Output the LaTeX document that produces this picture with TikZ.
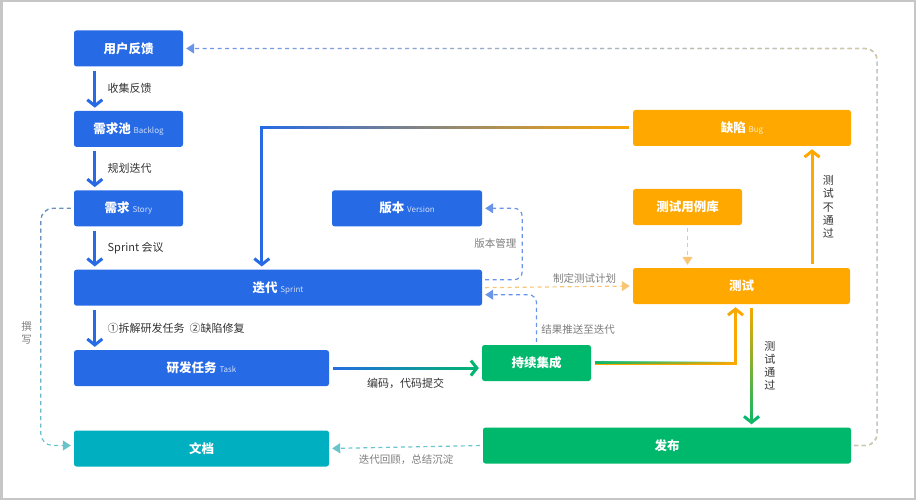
\documentclass[tikz,border=0pt]{standalone}
\usepackage{fontspec}
\setmainfont{Noto Sans CJK SC}
\usepackage{xcolor}
\usetikzlibrary{arrows.meta, positioning, fadings}
\definecolor{sblue}{RGB}{39,106,230}
\definecolor{sorange}{RGB}{255,168,0}
\definecolor{sgreen}{RGB}{0,184,108}
\definecolor{steal}{RGB}{0,175,192}
\definecolor{dblue}{RGB}{105,148,232}
\definecolor{dorange}{RGB}{248,198,118}
\definecolor{dteal}{RGB}{105,196,204}
\definecolor{dtan}{RGB}{218,204,150}
\definecolor{lgray}{RGB}{125,125,125}
\definecolor{tgray}{RGB}{50,50,50}
\newcommand{\sub}[2][sblue]{{\mdseries\fontsize{8}{10}\selectfont\color{white!78!#1}#2}}
\tikzfading[name=fromleft, left color=transparent!100, right color=transparent!0]
\tikzfading[name=toright, left color=transparent!0, right color=transparent!100]
\tikzfading[name=tobottom, top color=transparent!0, bottom color=transparent!100]
\tikzfading[name=tanfade, left color=transparent!100, middle color=transparent!25, right color=transparent!0]

\begin{document}
\begin{tikzpicture}[x=1pt, y=-1pt,
      box/.style={rounded corners=2.5pt, minimum height=36pt, inner sep=0pt, text=white,
                  font=\bfseries\fontsize{12.5}{15}\selectfont},
      bluebox/.style={box, fill=sblue},
      orangebox/.style={box, fill=sorange},
      greenbox/.style={box, fill=sgreen},
      tealbox/.style={box, fill=steal},
      flow/.style={line width=3pt, shorten <=4pt, shorten >=3pt,
                   -{Straight Barb[length=6pt, width=15pt]}},
      dline/.style={line width=1.2pt, dash pattern=on 4pt off 3.5pt, shorten <=3pt, shorten >=3pt,
                    -{Triangle[length=8pt, width=10pt]}},
      lbl/.style={font=\fontsize{11}{13}\selectfont, text=tgray},
      vlbl/.style={font=\fontsize{11}{13.3}\selectfont, text=tgray, align=center},
      note/.style={font=\fontsize{10.5}{13}\selectfont, text=lgray}]
    \useasboundingbox (0,0) rectangle (916,500);
    \draw[gray!45, line width=5pt] (0,0) rectangle (916,500);

    \node[bluebox, minimum width=109pt] (feedback) at (128.5,48.5) {用户反馈};
    \node[bluebox, minimum width=109pt, below=44pt of feedback] (backlog) {需求池 \sub{Backlog}};
    \node[bluebox, minimum width=109pt, below=43pt of backlog] (story) {需求 \sub{Story}};
    \node[bluebox, minimum width=408pt, below right=43pt and 0pt of story.south west] (sprint) {迭代 \sub{Sprint}};
    \node[bluebox, minimum width=255pt, below right=44pt and 0pt of sprint.south west] (task) {研发任务 \sub{Task}};
    \node[tealbox, minimum width=255pt, below right=44pt and 0pt of task.south west] (doc) {文档};
    \node[bluebox, minimum width=150pt, above left=43pt and 0pt of sprint.north east] (version) {版本 \sub{Version}};
    \node[greenbox, minimum width=109pt] (ci) at (536.5,363) {持续集成};
    \node[greenbox, minimum width=368pt] (release) at (667,445.5) {发布};
    \node[orangebox, minimum width=217pt] (test) at (741.5,286) {测试};
    \node[orangebox, minimum width=109pt] (case) at (687.5,207) {测试用例库};
    \node[orangebox, minimum width=218pt] (bug) at (742,128) {缺陷 \sub[sorange]{Bug}};

    \draw[flow, sblue] ([xshift=21pt]feedback.south west) -- ([xshift=21pt]backlog.north west)
      node[lbl, midway, right=8pt] {收集反馈};
    \draw[flow, sblue] ([xshift=21pt]backlog.south west) -- ([xshift=21pt]story.north west)
      node[lbl, midway, right=8pt] {规划迭代};
    \draw[flow, sblue] ([xshift=21pt]story.south west) -- ([xshift=21pt]sprint.north west)
      node[lbl, midway, right=8pt] {Sprint 会议};
    \draw[flow, sblue] ([xshift=21pt]sprint.south west) -- ([xshift=21pt]task.north west)
      node[lbl, midway, right=8pt] {①拆解研发任务 \ ②缺陷修复};

    \draw[flow, sblue] (bug.west) -| ([xshift=188pt]sprint.north west);
    \draw[flow, sorange, path fading=fromleft] (bug.west) -| ([xshift=188pt]sprint.north west);
    \draw[flow, sgreen] (task.east) -- (task.east -| ci.west)
      node[lbl, midway, below=5pt] {编码，代码提交};
    \draw[flow, sblue, path fading=toright] (task.east) -- (task.east -| ci.west);
    \draw[flow, sorange] (ci.east) -| ([xshift=-6pt]test.south);
    \draw[flow, sgreen, path fading=toright] (ci.east) -| ([xshift=-6pt]test.south);
    \draw[flow, sgreen] ([xshift=10pt]test.south) -- ([xshift=10pt]test.south |- release.north)
      node[vlbl, midway, right=8pt] {测\\试\\通\\过};
    \draw[flow, sorange, path fading=tobottom] ([xshift=10pt]test.south) -- ([xshift=10pt]test.south |- release.north);
    \draw[flow, sorange] ([xshift=70.5pt]test.north) -- ([xshift=70.5pt]test.north |- bug.south)
      node[vlbl, midway, right=6pt] {测\\试\\不\\通\\过};

    \draw[dline, dblue, rounded corners=8pt] ([yshift=8pt]sprint.east)
      -| node[note, left=2pt, pos=0.75] {版本管理} ([xshift=40pt]version.east) -- (version.east);
    \draw[dline, dblue, rounded corners=8pt] (ci.north)
      |- node[note, right=1pt, pos=0.15] {结果推送至迭代} ([yshift=-7pt]sprint.east);
    \draw[dline, dorange] (sprint.east) -- node[note, above=-1pt, pos=0.68] {制定测试计划} (test.west);
    \draw[dline, dorange] (case.south) -- (case.south |- test.north);
    \draw[dline, dteal] (release.west) -- node[note, below=4pt] {迭代回顾，总结沉淀} (doc.east);
    \draw[dline, dblue, rounded corners=12pt] (release.east) -- ++(26pt,0) |- (feedback.east);
    \draw[dline, dtan, rounded corners=12pt, path fading=tanfade] (release.east) -- ++(26pt,0) |- (feedback.east);
    \draw[dline, dteal, rounded corners=12pt] (story.west) -- ++(-33pt,0)
      |- node[note, left=5pt, pos=0.263, align=center] {撰\\写} ([yshift=3pt]doc.west);
    \draw[dline, dblue!60!gray, rounded corners=12pt, path fading=tobottom] (story.west) -- ++(-33pt,0) |- ([yshift=3pt]doc.west);
  \end{tikzpicture}
\end{document}
